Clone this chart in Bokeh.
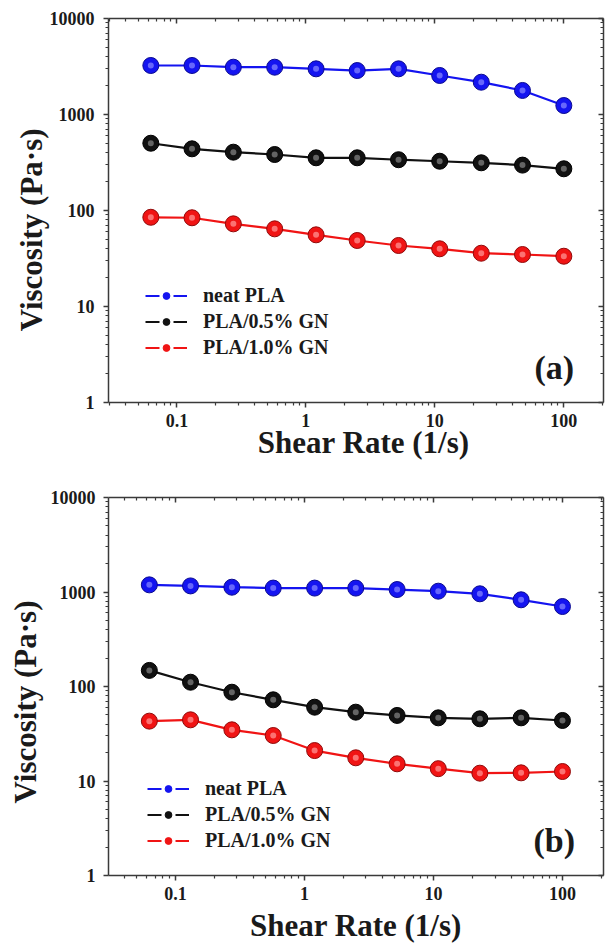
from bokeh.plotting import figure
from bokeh.layouts import column
from bokeh.models import LogAxis, FixedTicker, Legend, LegendItem, Label, Range1d
from bokeh.embed import file_html
from bokeh.resources import INLINE

# ---- data ----
shear_rate = [0.0628, 0.131, 0.274, 0.573, 1.2, 2.5, 5.23, 10.9, 22.9, 47.8, 100]

a_neat_pla = [3240, 3240, 3110, 3110, 2990, 2870, 2990, 2550, 2170, 1780, 1240]
a_pla_05gn = [502, 439, 405, 383, 354, 354, 338, 326, 314, 297, 272]
a_pla_10gn = [85, 84, 72.6, 64.4, 55.8, 48.7, 43.2, 39.9, 35.9, 34.8, 33.4]

b_neat_pla = [1190, 1160, 1124, 1100, 1100, 1100, 1062, 1020, 957, 827, 702]
b_pla_05gn = [148, 111, 87, 72.3, 60.4, 53.5, 49.4, 46.6, 45.5, 46.6, 43.7]
b_pla_10gn = [43, 44.4, 34.8, 30.3, 21, 17.6, 15.2, 13.5, 12.1, 12.2, 12.6]

series_names = ["neat PLA", "PLA/0.5% GN", "PLA/1.0% GN"]
series_colors = ["#1414f0", "#111111", "#f01414"]
edge_colors = ["#0a0a90", "#000000", "#900a0a"]
highlight_colors = ["#8a8aff", "#888888", "#ff9a9a"]

x_ticks = [0.1, 1, 10, 100]
x_tick_labels = ["0.1", "1", "10", "100"]
y_ticks = [1, 10, 100, 1000, 10000]
y_tick_labels = ["1", "10", "100", "1000", "10000"]

x_minor = [m * 10.0 ** e for e in range(-2, 3) for m in range(2, 10)]
y_minor = [m * 10.0 ** e for e in range(0, 4) for m in range(2, 10)]

FONT = "Liberation Serif"
AXIS_COLOR = "#3a3a3a"
NB = "\u00a0"


def style_axis(ax, ticks, labels, minor, show_labels, inward):
    ax.ticker = FixedTicker(ticks=ticks, minor_ticks=minor)
    ax.axis_line_color = AXIS_COLOR
    ax.axis_line_width = 1.5
    ax.major_tick_line_color = AXIS_COLOR
    ax.minor_tick_line_color = AXIS_COLOR
    ax.major_tick_line_width = 1.5
    ax.minor_tick_line_width = 1.2
    if inward:
        ax.major_tick_in = 5
        ax.major_tick_out = 0
        ax.minor_tick_in = 3
        ax.minor_tick_out = 0
    else:
        ax.major_tick_in = 0
        ax.major_tick_out = 5
        ax.minor_tick_in = 0
        ax.minor_tick_out = 3
    ax.major_label_text_font = FONT
    ax.major_label_text_font_style = "bold"
    ax.major_label_text_font_size = "18px"
    ax.major_label_text_color = "#1a1a1a"
    if show_labels:
        ax.major_label_overrides = {t: l for t, l in zip(ticks, labels)}
    else:
        ax.major_label_overrides = {t: "" for t in ticks}
        ax.major_label_standoff = 0


def make_panel(neat, p05, p10, tag, tag_x, tag_y, xr, borders, height, legend_loc,
               xlabel, ylabel, x_stand, y_stand, ytick_stand):
    p = figure(width=607, height=height, x_axis_type="log", y_axis_type="log",
               x_range=Range1d(*xr), y_range=Range1d(1, 10000),
               output_backend="svg", toolbar_location=None,
               min_border_left=borders[0], min_border_right=borders[1],
               min_border_top=borders[2], min_border_bottom=borders[3])
    p.grid.visible = False
    p.outline_line_color = None
    p.background_fill_color = "white"

    style_axis(p.xaxis[0], x_ticks, x_tick_labels, x_minor, True, False)
    style_axis(p.yaxis[0], y_ticks, y_tick_labels, y_minor, True, False)
    p.xaxis[0].major_label_standoff = 6
    p.yaxis[0].major_label_standoff = ytick_stand

    p.xaxis[0].axis_label = xlabel
    p.yaxis[0].axis_label = ylabel
    for ax in (p.xaxis[0], p.yaxis[0]):
        ax.axis_label_text_font = FONT
        ax.axis_label_text_font_style = "bold"
        ax.axis_label_text_font_size = "31px"
        ax.axis_label_text_color = "#1a1a1a"
    p.xaxis[0].axis_label_standoff = x_stand
    p.yaxis[0].axis_label_standoff = y_stand

    top = LogAxis()
    style_axis(top, x_ticks, x_tick_labels, x_minor, False, True)
    p.add_layout(top, "above")
    right = LogAxis()
    style_axis(right, y_ticks, y_tick_labels, y_minor, False, True)
    p.add_layout(right, "right")

    items = []
    nan = [float("nan")]
    for vals, name, c, ec, hc in zip([neat, p05, p10], series_names, series_colors,
                                     edge_colors, highlight_colors):
        p.line(shear_rate, vals, line_width=2.2, color=c)
        p.scatter(shear_rate, vals, size=16, fill_color=c, line_color=ec, line_width=1)
        p.scatter(shear_rate, vals, size=6, fill_color=hc, line_color=None, fill_alpha=0.7)
        lg_line = p.line(nan, nan, line_width=2, color=c, line_dash="14 14")
        lg_dot = p.scatter(nan, nan, size=8, fill_color=c, line_color=c)
        items.append(LegendItem(label=name, renderers=[lg_line, lg_dot]))

    legend = Legend(items=items, location=legend_loc, margin=0, padding=0, spacing=0,
                    glyph_width=42, glyph_height=17, label_height=26, label_standoff=16,
                    border_line_alpha=0, background_fill_alpha=0,
                    label_text_font=FONT, label_text_font_style="bold",
                    label_text_font_size="20px", label_text_color="#1a1a1a")
    p.add_layout(legend, "center")

    p.add_layout(Label(x=tag_x, y=tag_y, text=tag, text_align="right", text_baseline="middle",
                       text_font=FONT, text_font_style="bold", text_font_size="34px",
                       text_color="#1a1a1a"))
    return p


p1 = make_panel(a_neat_pla, a_pla_05gn, a_pla_10gn, "(a)", 120, 2.3,
                (0.0295, 203), (103, 4, 18, 68), 470, (37, 42),
                NB * 2 + "Shear Rate (1/s)", "Viscosity (Pa\u00b7s)" + NB * 5, -5, -2, 9)
p2 = make_panel(b_neat_pla, b_pla_05gn, b_pla_10gn, "(b)", 125, 2.35,
                (0.0303, 208), (108, 4, 27, 71), 476, (39, 22),
                "Shear Rate (1/s)", "Viscosity (Pa\u00b7s)" + NB * 4, 5, 5, 8)

layout = column(p1, p2, spacing=0)
open("out.html", "w").write(file_html(layout, INLINE))
